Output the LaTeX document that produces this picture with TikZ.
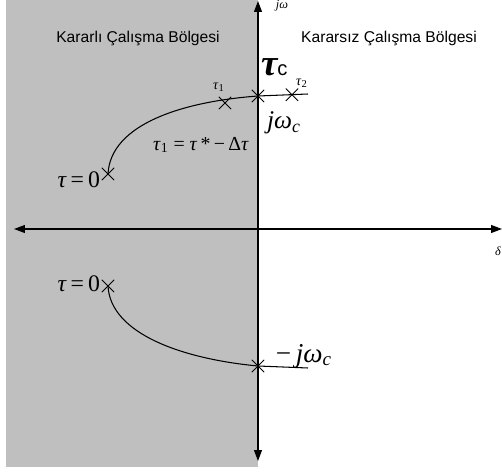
\documentclass[tikz,border=0pt]{standalone}
\usepackage{fontspec}
\setmainfont{Liberation Serif}
\setsansfont{Liberation Sans}
\usetikzlibrary{arrows.meta, shapes.misc}

\newcommand{\tu}{\textit{τ}}

\begin{document}
\begin{tikzpicture}[
    axis/.style={line width=0.6pt, {Triangle[length=2.2mm,width=1.6mm]}-{Triangle[length=2.2mm,width=1.6mm]}},
    root/.style={cross out, draw, minimum size=2.3mm, inner sep=0pt, line width=0.5pt},
    locus/.style={line width=0.6pt},
    region/.style={font=\sffamily\fontsize{8.9}{10}\selectfont},
    lbl/.style={inner sep=1pt, font=\fontsize{13.5}{15}\selectfont},
    small/.style={inner sep=1pt, font=\fontsize{8}{9}\selectfont},
]
    \useasboundingbox (-5.16,-4.86) rectangle (4.88,4.58);

    % Stable half plane
    \fill[gray!50] (-5.04,-4.76) rectangle (0,4.58);

    % Axes
    \coordinate (west) at (-4.88,0);
    \coordinate (east) at (4.88,0);
    \coordinate (north) at (0,4.56);
    \coordinate (south) at (0,-4.64);
    \draw[axis] (west) -- (east);
    \draw[axis] (south) -- (north);
    \node[small, font=\fontsize{7}{8}\selectfont] (jw) at (0.48,4.46) {\textit{jω}};
    \node[small, font=\fontsize{7}{8}\selectfont] (delta) at (4.8,-0.44) {\textit{δ}};

    % Regions
    \node[region] (stable) at (-2.40,3.82) {Kararlı Çalışma Bölgesi};
    \node[region] (unstable) at (2.62,3.82) {Kararsız Çalışma Bölgesi};

    % Upper branch
    \node[root] (up0) at (-3.0,1.1) {};
    \node[root] (t1) at (-0.66,2.52) {};
    \node[root] (wc) at (0,2.66) {};
    \node[root] (t2) at (0.68,2.685) {};
    \coordinate (upend) at (1.0,2.70);
    \draw[locus] (up0.center) .. controls (-2.95,2.1) and (-1.5,2.55) .. (wc.center) -- (upend);

    \node[lbl, anchor=east] (up0lbl) at (-3.12,0.98) {\tu\,=\,0};
    \node[small] (t1lbl) at (-0.78,2.84) {\tu\textsubscript{1}};
    \node[small] (t2lbl) at (0.88,2.92) {\tu\textsubscript{2}};
    \node[inner sep=1pt, anchor=west] (tc) at (0.02,3.24) {{\fontsize{21}{21}\selectfont\bfseries\itshape τ}{\sffamily\fontsize{11.5}{11.5}\selectfont c}};
    \node[lbl, font=\fontsize{14.5}{16}\selectfont] (wclbl) at (0.52,2.12) {\textit{jω}\textsubscript{\textit{c}}};
    \node[inner sep=1pt, font=\fontsize{11.3}{12}\selectfont] (rule) at (-1.14,1.68) {\tu\textsubscript{1} = \tu\,*\,−\,Δ\tu};

    % Lower branch
    \node[root] (lo0) at (-3.0,-1.14) {};
    \node[root] (mwc) at (0,-2.74) {};
    \coordinate (loend) at (1.0,-2.78);
    \draw[locus] (lo0.center) .. controls (-2.95,-2.1) and (-1.5,-2.6) .. (mwc.center) -- (loend);

    \node[lbl, anchor=east] (lo0lbl) at (-3.12,-1.10) {\tu\,=\,0};
    \node[lbl, font=\fontsize{15.5}{17}\selectfont] (mwclbl) at (0.92,-2.54) {−\,\textit{jω}\textsubscript{\textit{c}}};
\end{tikzpicture}
\end{document}
